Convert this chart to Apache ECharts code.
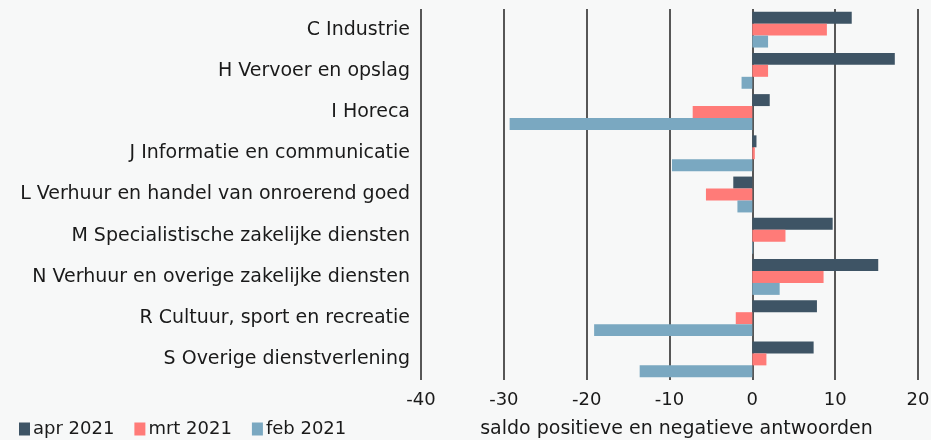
<!DOCTYPE html>
<html><head><meta charset="utf-8">
<script src="https://cdn.jsdelivr.net/npm/echarts@6/dist/echarts.min.js"></script>
<style>html,body{margin:0;padding:0;background:#f7f8f8}#c{width:931px;height:440px}</style>
</head><body><div id="c"></div>
<script>
const categories = ["C Industrie","H Vervoer en opslag","I Horeca","J Informatie en communicatie","L Verhuur en handel van onroerend goed","M Specialistische zakelijke diensten","N Verhuur en overige zakelijke diensten","R Cultuur, sport en recreatie","S Overige dienstverlening"];
const apr2021 = [12.0, 17.2, 2.1, 0.5, -2.3, 9.7, 15.2, 7.8, 7.4];
const mrt2021 = [9.0, 1.9, -7.2, 0.3, -5.6, 4.0, 8.6, -2.0, 1.7];
const feb2021 = [1.9, -1.3, -29.3, -9.7, -1.8, 0.1, 3.3, -19.1, -13.6];
const seriesNames = ["apr 2021","mrt 2021","feb 2021"];
const colors = ["#3e5465","#ff7b78","#7aa8c1"];
const font = "DejaVu Sans";
const chart = echarts.init(document.getElementById('c'));
chart.setOption({
  backgroundColor:'#f7f8f8',
  animation:false,
  textStyle:{fontFamily:font},
  grid:{left:421,right:13,top:9,bottom:60,containLabel:false,outerBoundsMode:'none'},
  legend:{left:14,top:415,itemWidth:11,itemHeight:13,itemGap:20,
    icon:'rect',textStyle:{fontSize:18,color:'#1a1a1a',fontFamily:font,padding:[0,0,0,-2]},
    data:seriesNames},
  xAxis:{type:'value',min:-40,max:20,interval:10,
    axisLine:{show:false},axisTick:{show:false},
    axisLabel:{fontSize:18,color:'#1a1a1a',margin:11,fontFamily:font},
    splitLine:{show:true,lineStyle:{color:'#222',width:1.5}},
    name:'saldo positieve en negatieve antwoorden',nameLocation:'middle',nameGap:40,
    nameTextStyle:{fontSize:19,color:'#1a1a1a',fontFamily:font,padding:[0,0,0,14]}},
  yAxis:{type:'category',data:categories,inverse:true,
    axisLine:{show:false},axisTick:{show:false},
    axisLabel:{fontSize:19,color:'#1a1a1a',margin:11,fontFamily:font},
    splitLine:{show:false}},
  series:[
    {name:seriesNames[0],type:'bar',data:apr2021,itemStyle:{color:colors[0]},barGap:'0%',barCategoryGap:'13%'},
    {name:seriesNames[1],type:'bar',data:mrt2021,itemStyle:{color:colors[1]},barGap:'0%',barCategoryGap:'13%'},
    {name:seriesNames[2],type:'bar',data:feb2021,itemStyle:{color:colors[2]},barGap:'0%',barCategoryGap:'13%'}
  ]
});
</script></body></html>
